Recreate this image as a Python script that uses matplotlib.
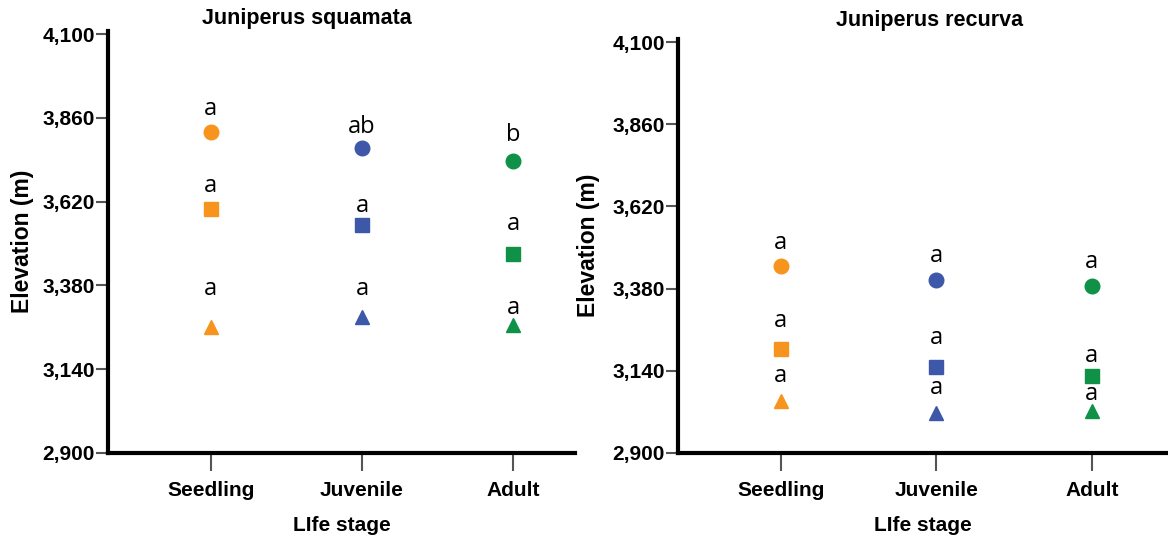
import matplotlib
matplotlib.use('Agg')
import matplotlib.pyplot as plt
from matplotlib.ticker import FuncFormatter

#   Data
stages = ['Seedling', 'Juvenile', 'Adult']
stage_colors = ['#F7941D', '#3D58A8', '#0F9147']
yticks = [2900, 3140, 3380, 3620, 3860, 4100]

# Juniperus squamata: mean elevation per stage (circle / square / triangle groups)
squamata_circle = [3820, 3774, 3736]
squamata_square = [3599, 3552, 3471]
squamata_triangle = [3262, 3289, 3267]
squamata_circle_txt = ['a', 'ab', 'b']
squamata_square_txt = ['a', 'a', 'a']
squamata_triangle_txt = ['a', 'a', 'a']
squamata_circle_lab_y = [3886, 3834, 3810]
squamata_square_lab_y = [3664, 3606, 3557]
squamata_triangle_lab_y = [3370, 3369, 3314]

# Juniperus recurva
recurva_circle = [3445, 3404, 3387]
recurva_square = [3204, 3152, 3125]
recurva_triangle = [3051, 3018, 3021]
recurva_circle_txt = ['a', 'a', 'a']
recurva_square_txt = ['a', 'a', 'a']
recurva_triangle_txt = ['a', 'a', 'a']
recurva_circle_lab_y = [3512, 3476, 3459]
recurva_square_lab_y = [3285, 3237, 3182]
recurva_triangle_lab_y = [3124, 3091, 3073]

plt.rcParams['font.family'] = ['Liberation Sans', 'DejaVu Sans']

fig = plt.figure(figsize=(11.68, 5.36), dpi=100)


def draw_panel(ax, title, groups, xlim, title_x, title_y):
    x = list(range(len(stages)))
    markers = ['o', 's', '^']
    sizes = [10.5, 10.5, 10]
    for (vals, txt, lab_y), m, ms in zip(groups, markers, sizes):
        for i in x:
            ax.plot(i, vals[i], marker=m, color=stage_colors[i], markersize=ms,
                    linestyle='none', clip_on=False)
            ax.text(i, lab_y[i], txt[i], ha='center', va='center',
                    fontsize=17, family='Open Sans', color='black')
    ax.set_xlim(*xlim)
    ax.set_ylim(2900, 4110)
    ax.set_yticks(yticks)
    ax.yaxis.set_major_formatter(FuncFormatter(lambda v, p: f'{int(v):,}'))
    ax.set_xticks(x)
    ax.set_xticklabels(stages, fontsize=15, fontweight='bold')
    for lab in ax.get_yticklabels():
        lab.set_fontsize(15)
        lab.set_fontweight('bold')
    ax.spines['top'].set_visible(False)
    ax.spines['right'].set_visible(False)
    ax.spines['left'].set_linewidth(3)
    ax.spines['bottom'].set_linewidth(3)
    ax.tick_params(axis='y', direction='out', length=9, width=1.5, color='#555555', pad=0.5)
    ax.tick_params(axis='x', direction='out', length=13, width=1.5, color='#555555', pad=7)
    ax.set_xlabel('LIfe stage', fontsize=15, fontweight='bold', labelpad=12)
    ax.set_ylabel('Elevation (m)', fontsize=16.5, fontweight='bold')
    ax.yaxis.set_label_coords(-0.159, 0.5)
    ax.set_title(title, fontsize=15.5, fontweight='bold', x=title_x, y=title_y)


ax1 = fig.add_axes([0.0925, 0.155, 0.40, 0.788])
draw_panel(ax1, 'Juniperus squamata',
           [(squamata_circle, squamata_circle_txt, squamata_circle_lab_y),
            (squamata_square, squamata_square_txt, squamata_square_lab_y),
            (squamata_triangle, squamata_triangle_txt, squamata_triangle_lab_y)],
           (-0.68, 2.41), 0.426, 0.995)

ax2 = fig.add_axes([0.5805, 0.155, 0.4195, 0.773])
draw_panel(ax2, 'Juniperus recurva',
           [(recurva_circle, recurva_circle_txt, recurva_circle_lab_y),
            (recurva_square, recurva_square_txt, recurva_square_lab_y),
            (recurva_triangle, recurva_triangle_txt, recurva_triangle_lab_y)],
           (-0.66, 2.49), 0.514, 1.01)

fig.savefig('out.png', dpi=100)
